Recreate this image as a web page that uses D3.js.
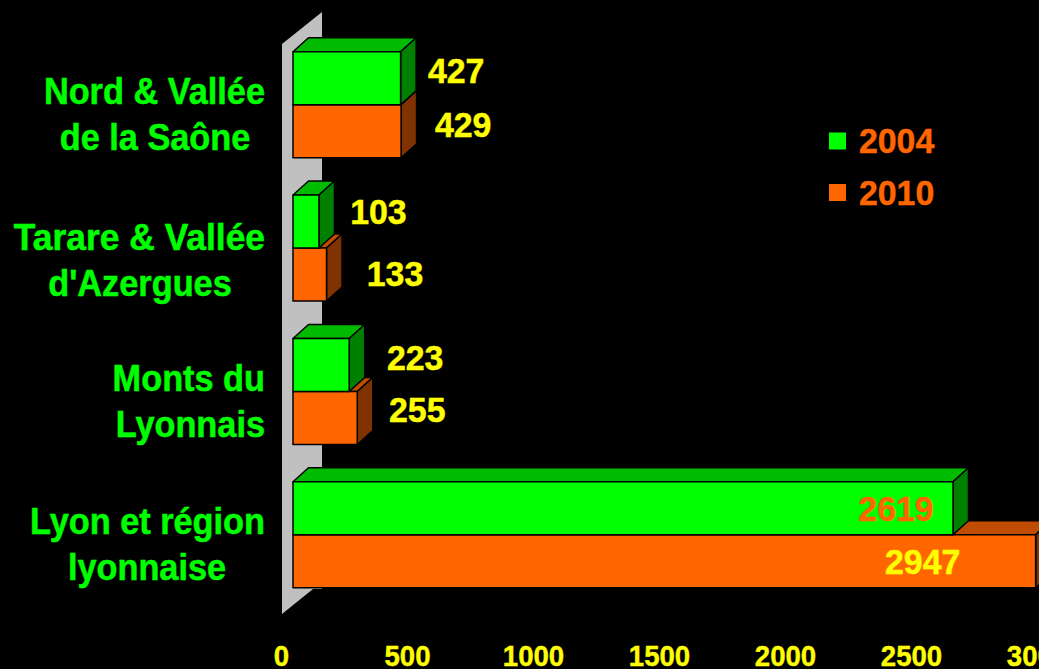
<!DOCTYPE html>
<html><head><meta charset="utf-8">
<script src="https://cdn.jsdelivr.net/npm/d3@7"></script>
<style>html,body{margin:0;padding:0;background:#000;overflow:hidden}svg{display:block}text{font-family:"Liberation Sans",Arial,sans-serif;font-weight:bold}</style>
</head><body><svg id="c" width="1039" height="669"></svg>
<script>
const categories = ["Nord & Vallée de la Saône","Tarare & Vallée d'Azergues","Monts du Lyonnais","Lyon et région lyonnaise"];
const categoryLines = [["Nord & Vallée","de la Saône"],["Tarare & Vallée","d'Azergues"],["Monts du","Lyonnais"],["Lyon et région","lyonnaise"]];
const years = ["2004","2010"];
const values2004 = [427,103,223,2619];
const values2010 = [429,133,255,2947];
const xTicks = [0,500,1000,1500,2000,2500,3000];

const svg = d3.select("#c");
const W=1039,H=669, depthX=15.5, depthY=-14, barInset=11, barH=53;
const x = d3.scaleLinear().domain([0,3000]).range([282,1038]);
const y = d3.scaleBand().domain(categories).range([33,606.5]).paddingInner(0).paddingOuter(0);
const colors = {front:["#00ff00","#ff6600"],top:["#00bb00","#bf4c00"],side:["#008000","#803300"]};

svg.append("rect").attr("width",W).attr("height",H).attr("fill","#000");
// wall
const wall = d3.path();
wall.moveTo(x(0),44); wall.lineTo(x(0)+40,12); wall.lineTo(x(0)+40,589); wall.lineTo(x(0)+31,589); wall.lineTo(x(0),614); wall.closePath();
svg.append("path").attr("d",wall.toString()).attr("fill","#c0c0c0");

// bars
const rows=[];
categories.forEach((c,i)=>{
  const mid=y(c)+y.bandwidth()/2;
  rows.push({c,i,s:1,v:values2010[i],y0:mid});
  rows.push({c,i,s:0,v:values2004[i],y0:mid-barH});
});
const g=svg.append("g").attr("stroke","#000").attr("stroke-width",1.5).attr("stroke-linejoin","round");
rows.forEach(r=>{
  const x0=x(0)+barInset, x1=x(r.v)+barInset, y0=r.y0, y1=r.y0+barH;
  const line=d3.line();
  g.append("path").attr("d",line([[x0,y0],[x0+depthX,y0+depthY],[x1+depthX,y0+depthY],[x1,y0]])+"Z").attr("fill",colors.top[r.s]);
  g.append("path").attr("d",line([[x1,y0],[x1+depthX,y0+depthY],[x1+depthX,y1+depthY],[x1,y1]])+"Z").attr("fill",colors.side[r.s]);
  g.append("rect").attr("x",x0).attr("y",y0).attr("width",x1-x0).attr("height",barH).attr("fill",colors.front[r.s]);
});

// text helper: slightly condensed, tall bold digits and letters
function label(px,py,txt,size,fill,anchor,sx=0.94){
  return svg.append("text").attr("transform",`translate(${px},${py}) scale(${sx},1)`)
    .attr("text-anchor",anchor).attr("dominant-baseline","central")
    .attr("font-size",size).attr("fill",fill).attr("stroke",fill).attr("stroke-width",0.5).text(txt);
}

// category labels
const secondLineCenters=[155,140,null,147];
const rowShift=[0,2.5,0,0];
categories.forEach((c,i)=>{
  const mid=y(c)+y.bandwidth()/2;
  categoryLines[i].forEach((l,j)=>{
    const yy=mid-13+j*46+rowShift[i];
    if(j===0||i===2) label(265,yy,l,36.5,"#00ff00","end",(i===1)?0.97:0.94);
    else label(secondLineCenters[i],yy,l,36.5,"#00ff00","middle");
  });
});

// data labels
const nudge2004=[[66.5,-8],[70.5,-10],[77,-8],[-46,0]];
const nudge2010=[[73,-7],[79.5,-1],[71,-9],[-102,0]];
[values2004,values2010].forEach((vals,s)=>{
  vals.forEach((v,i)=>{
    const mid=y(categories[i])+y.bandwidth()/2;
    const n=(s?nudge2010:nudge2004)[i];
    const cy=(s?mid+barH/2:mid-barH/2);
    label(x(v)+n[0],cy+n[1],v,36,(s===0&&i===3)?"#ff6600":"#ffff00","middle");
  });
});

// axis
const axis=d3.axisBottom(x).tickValues(xTicks).tickSize(0).tickPadding(0).tickFormat(d3.format("d"));
const ag=svg.append("g").attr("transform","translate(-1,645)").call(axis);
ag.select(".domain").remove();
ag.selectAll("text").attr("font-size",30).attr("fill","#ffff00").attr("stroke","#ffff00").attr("stroke-width",0.4)
  .attr("font-family",'"Liberation Sans",Arial,sans-serif').attr("font-weight","bold").attr("text-anchor","middle")
  .attr("transform","scale(0.92,1)");

// legend
years.forEach((yr,i)=>{
  const ly=140.5+i*51.5;
  svg.append("rect").attr("x",829).attr("y",ly-8).attr("width",17).attr("height",17).attr("fill",colors.front[i]);
  label(859,ly,yr,36,"#ff6600","start");
});
</script></body></html>
